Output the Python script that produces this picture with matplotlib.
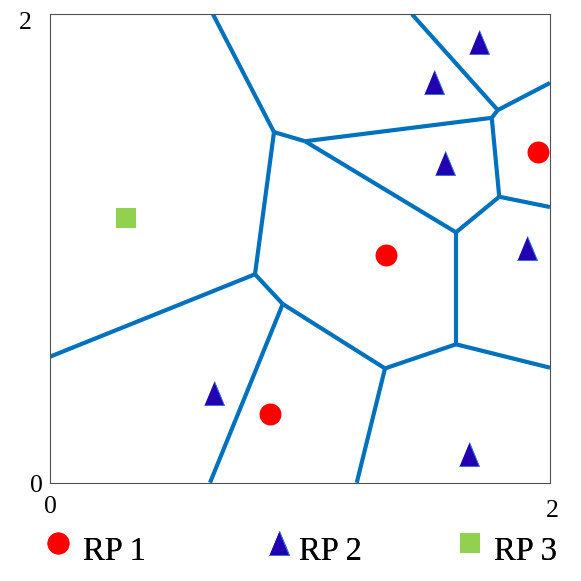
import matplotlib
matplotlib.use("Agg")
import matplotlib.pyplot as plt

plt.rcParams['font.family'] = ['Liberation Serif', 'DejaVu Serif']

# voronoi vertices (inner) and where the ridges hit the box
vert_x = [0.896, 1.020, 1.767, 1.791, 1.797, 1.624, 1.624, 0.820, 0.931, 1.340,
          0.652, 1.448, 2.0, 2.0, 2.0, 0.0, 0.640, 1.227]
vert_y = [1.497, 1.458, 1.558, 1.591, 1.221, 1.069, 0.591, 0.890, 0.763, 0.488,
          2.0, 2.0, 1.707, 1.177, 0.491, 0.538, 0.0, 0.0]
ridges = [(10, 0), (0, 1), (1, 2), (2, 3), (3, 11), (3, 12), (2, 4), (4, 13),
          (4, 5), (5, 1), (5, 6), (0, 7), (7, 15), (7, 8), (8, 9), (9, 6),
          (6, 14), (8, 16), (9, 17)]

# reference points
rp1_x = [1.344, 0.880, 1.951]
rp1_y = [0.972, 0.292, 1.412]
rp2_x = [0.656, 1.677, 1.909, 1.716, 1.537, 1.580]
rp2_y = [0.383, 0.121, 1.003, 1.880, 1.712, 1.365]
rp3_x = [0.304]
rp3_y = [1.129]

tri = [(-0.83, -1), (0.83, -1), (0, 1)]

fig = plt.figure(figsize=(5.81, 5.81), dpi=100)
ax = fig.add_axes([50 / 581, 1 - 482.7 / 581, 500 / 581, 468.4 / 581])

for i, j in ridges:
    ax.plot([vert_x[i], vert_x[j]], [vert_y[i], vert_y[j]], color='#0072BD',
            lw=3.0, solid_capstyle='butt')

h1, = ax.plot(rp1_x, rp1_y, 'o', color='#ff0000', ms=15.8, mew=0, ls='none')
h2, = ax.plot(rp2_x, rp2_y, marker=tri, color='#2000b0', mec='#3a6fd8',
              mew=0.7, ms=17.3, ls='none')
h3, = ax.plot(rp3_x, rp3_y, 's', color='#92d050', ms=14.3, mew=0, ls='none')

ax.set_xlim(0, 2)
ax.set_ylim(0, 2)
ax.set_xticks([])
ax.set_yticks([])
for s in ax.spines.values():
    s.set_color('#505050')
    s.set_linewidth(0.8)

# axis labels placed like the original
fs = 18.5
ax.annotate('2', xy=(0, 2), xytext=(-18, -15), textcoords='offset pixels',
            ha='right', va='baseline', fontsize=fs)
ax.annotate('0', xy=(0, 0), xytext=(-7, -9), textcoords='offset pixels',
            ha='right', va='baseline', fontsize=fs)
ax.annotate('0', xy=(0, 0), xytext=(0, -30.6), textcoords='offset pixels',
            ha='center', va='baseline', fontsize=fs)
ax.annotate('2', xy=(2, 0), xytext=(2.5, -34), textcoords='offset pixels',
            ha='center', va='baseline', fontsize=fs)

# legend, three separate entries along the bottom
entries = [(h1, 'RP 1', 46.3, 0.42), (h2, 'RP 2', 267.9, 0.26), (h3, 'RP 3', 458.1, 0.41)]
for h, lab, x0, pad in entries:
    leg = fig.legend([h], [lab], loc='lower left', bbox_to_anchor=(x0 / 581, 7.3 / 581),
                     bbox_transform=fig.transFigure, frameon=False, borderpad=0,
                     borderaxespad=0, handlelength=0.7, handleheight=1.9,
                     handletextpad=pad, fontsize=23.5, numpoints=1)
    fig.add_artist(leg)

fig.savefig('out.png', dpi=100)
